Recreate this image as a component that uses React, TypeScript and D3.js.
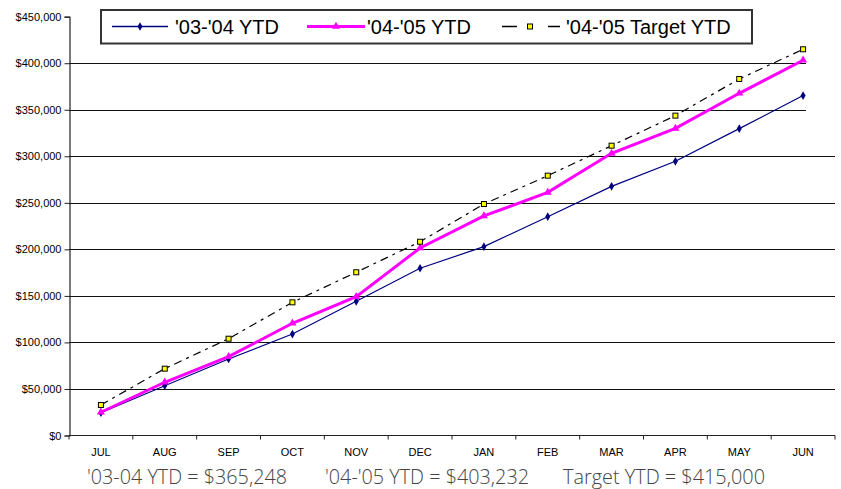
import { useEffect, useRef } from "react";
import * as d3 from "d3";

const months = ["JUL", "AUG", "SEP", "OCT", "NOV", "DEC", "JAN", "FEB", "MAR", "APR", "MAY", "JUN"];
const ytd0304 = [24500, 53500, 82200, 109000, 144200, 179700, 202900, 235100, 267700, 294600, 329700, 365248];
const ytd0405 = [25000, 57200, 84700, 120600, 149200, 201500, 235900, 261300, 303200, 330000, 367700, 403232];
const target0405 = [32800, 71800, 104000, 143100, 175400, 208200, 248700, 279200, 311400, 343700, 383100, 415000];
const yTicks = [0, 50000, 100000, 150000, 200000, 250000, 300000, 350000, 400000, 450000];
const footer = ["'03-04 YTD = $365,248", "'04-'05 YTD = $403,232", "Target YTD = $415,000"];

export default function App() {
  const ref = useRef<SVGSVGElement>(null);

  useEffect(() => {
    const svg = d3.select(ref.current);
    svg.selectAll("*").remove();

    const left = 69, right = 835, top = 16.7, bottom = 435.5;
    const x = d3.scaleBand<string>().domain(months).range([left, right]);
    const y = d3.scaleLinear().domain([0, 450000]).range([bottom, top]);
    const cx = (m: string) => (x(m) as number) + x.bandwidth() / 2;

    // gridlines (top two stop short, like the original)
    svg.append("g")
      .selectAll("line")
      .data(yTicks.filter((t) => t > 0 && t < 450000))
      .join("line")
      .attr("x1", left)
      .attr("x2", (d) => (d >= 350000 ? 806 : right))
      .attr("y1", (d) => Math.round(y(d)) + 0.5)
      .attr("y2", (d) => Math.round(y(d)) + 0.5)
      .attr("stroke", "#111")
      .attr("stroke-width", 1.2);

    // y axis
    const yAxis = d3.axisLeft(y).tickValues(yTicks).tickSize(5).tickPadding(3)
      .tickFormat((d) => "$" + d3.format(",")(d as number));
    const ya = svg.append("g").attr("transform", `translate(${left + 0.5},0)`).call(yAxis);
    ya.select(".domain").attr("stroke", "#222").attr("stroke-width", 1.2);
    ya.selectAll(".tick line").attr("stroke", "#222");
    ya.selectAll("text").attr("font-family", "Liberation Sans, Arial, sans-serif").attr("font-size", 11).attr("fill", "#000");

    // x axis
    const xa = svg.append("g").attr("transform", `translate(0,${bottom})`);
    xa.append("line").attr("x1", left).attr("x2", right).attr("stroke", "#222").attr("stroke-width", 1.2);
    xa.selectAll("line.t")
      .data(d3.range(months.length + 1))
      .join("line")
      .attr("class", "t")
      .attr("x1", (i) => left + i * x.bandwidth())
      .attr("x2", (i) => left + i * x.bandwidth())
      .attr("y1", 0)
      .attr("y2", 4)
      .attr("stroke", "#222");
    xa.selectAll("text")
      .data(months)
      .join("text")
      .attr("x", (d) => cx(d))
      .attr("y", 20)
      .attr("text-anchor", "middle")
      .attr("font-family", "Liberation Sans, Arial, sans-serif")
      .attr("font-size", 11)
      .text((d) => d);

    const line = d3.line<number>().x((_, i) => cx(months[i])).y((d) => y(d));

    // target series
    svg.append("path").datum(target0405).attr("d", line).attr("fill", "none")
      .attr("stroke", "#000").attr("stroke-width", 1.2).attr("stroke-dasharray", "8,5,3,5");
    // 03-04
    svg.append("path").datum(ytd0304).attr("d", line).attr("fill", "none")
      .attr("stroke", "#000080").attr("stroke-width", 1.2);
    // 04-05
    svg.append("path").datum(ytd0405).attr("d", line).attr("fill", "none")
      .attr("stroke", "#ff00ff").attr("stroke-width", 3);

    const diamond = d3.symbol().type(d3.symbolDiamond).size(22);
    const tri = d3.symbol().type(d3.symbolTriangle).size(28);

    svg.append("g").selectAll("path").data(ytd0304).join("path")
      .attr("d", diamond)
      .attr("transform", (d, i) => `translate(${cx(months[i])},${y(d)})`)
      .attr("fill", "#000080");
    svg.append("g").selectAll("path").data(ytd0405).join("path")
      .attr("d", tri)
      .attr("transform", (d, i) => `translate(${cx(months[i])},${y(d)})`)
      .attr("fill", "#ff00ff");
    svg.append("g").selectAll("rect").data(target0405).join("rect")
      .attr("x", (d, i) => cx(months[i]) - 2.5)
      .attr("y", (d) => y(d) - 2.5)
      .attr("width", 5)
      .attr("height", 5)
      .attr("fill", "#ffff00")
      .attr("stroke", "#000")
      .attr("stroke-width", 1);

    // legend
    const lg = svg.append("g");
    lg.append("rect").attr("x", 101).attr("y", 10).attr("width", 651).attr("height", 33.5)
      .attr("fill", "#fff").attr("stroke", "#333").attr("stroke-width", 2);
    const ly = 26.5;
    const font = "Liberation Sans, Arial, sans-serif";
    lg.append("line").attr("x1", 112).attr("x2", 168).attr("y1", ly).attr("y2", ly).attr("stroke", "#000080").attr("stroke-width", 1.5);
    lg.append("path").attr("d", diamond).attr("transform", `translate(140,${ly})`).attr("fill", "#000080");
    lg.append("text").attr("x", 175).attr("y", ly + 7.5).attr("font-family", font).attr("font-size", 20).text("'03-'04 YTD");

    lg.append("line").attr("x1", 307).attr("x2", 365).attr("y1", ly).attr("y2", ly).attr("stroke", "#ff00ff").attr("stroke-width", 3);
    lg.append("path").attr("d", tri).attr("transform", `translate(336,${ly})`).attr("fill", "#ff00ff");
    lg.append("text").attr("x", 367).attr("y", ly + 7.5).attr("font-family", font).attr("font-size", 20).text("'04-'05 YTD");

    lg.append("line").attr("x1", 502).attr("x2", 517).attr("y1", ly).attr("y2", ly).attr("stroke", "#000").attr("stroke-width", 1.5);
    lg.append("rect").attr("x", 527.5).attr("y", ly - 2.5).attr("width", 5).attr("height", 5)
      .attr("fill", "#ffff00").attr("stroke", "#000");
    lg.append("line").attr("x1", 548).attr("x2", 560).attr("y1", ly).attr("y2", ly).attr("stroke", "#000").attr("stroke-width", 1.5);
    lg.append("text").attr("x", 566).attr("y", ly + 7.5).attr("font-family", font).attr("font-size", 20).text("'04-'05 Target YTD");

    // footer totals
    const fx = [87, 325, 563];
    const fw = [200, 204, 202];
    svg.append("g").selectAll("text").data(footer).join("text")
      .attr("x", (_, i) => fx[i])
      .attr("y", 484)
      .attr("textLength", (_, i) => fw[i])
      .attr("lengthAdjust", "spacingAndGlyphs")
      .attr("font-family", "Open Sans, sans-serif")
      .attr("font-weight", 300)
      .attr("font-size", 20)
      .attr("fill", "#444")
      .text((d) => d);
  }, []);

  return (
    <svg
      ref={ref}
      width={841}
      height={489}
      style={{ position: "absolute", left: 0, top: 0, background: "#fff" }}
    />
  );
}
